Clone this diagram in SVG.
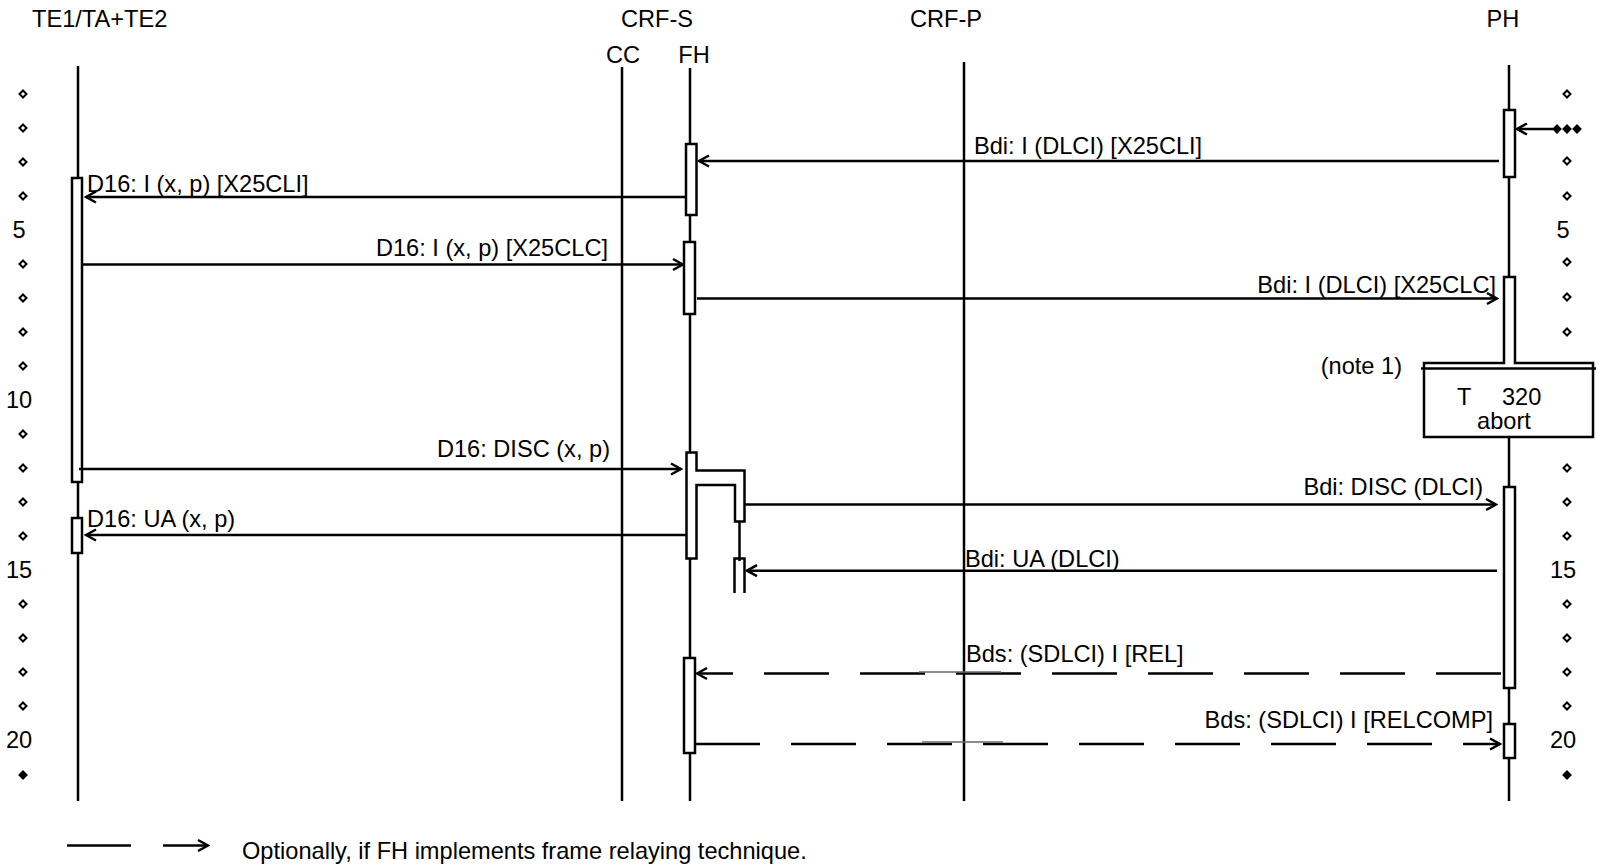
<svg xmlns="http://www.w3.org/2000/svg" xmlns:xlink="http://www.w3.org/1999/xlink" width="1598" height="867" viewBox="0 0 1598 867">
<style>
text{font-family:"Liberation Sans",Arial,sans-serif;font-size:23.6px;fill:#000}
.ll{stroke:#000;stroke-width:2.5;fill:none}
.box{stroke:#000;stroke-width:2.5;fill:#fff}
.msg{stroke:#000;stroke-width:2.5;fill:none;marker-end:url(#ah)}
.plain{stroke:#000;stroke-width:2.5;fill:none}
.dash{stroke-dasharray:65 31}
.grey{stroke:#666;stroke-width:1.5;fill:none}
.e{text-anchor:end}
.m{text-anchor:middle}
.dot{fill:#fff;stroke:#000;stroke-width:2}
.dotf{fill:#000;stroke:#000;stroke-width:2}
</style>
<defs>
<marker id="ah" markerUnits="userSpaceOnUse" viewBox="-12 -8 14 16" refX="0" refY="0" markerWidth="14" markerHeight="16" orient="auto">
<path d="M-10,-5.5 L0,0 L-10,5.5" fill="none" stroke="#000" stroke-width="2.5"/>
</marker>
<path id="d" d="M0,-3.5 L3.5,0 L0,3.5 L-3.5,0 Z"/>
</defs>
<rect width="1598" height="867" fill="#fff"/>

<g id="row-numbers">
<use xlink:href="#d" class="dot" x="23" y="94"/>
<use xlink:href="#d" class="dot" x="23" y="128"/>
<use xlink:href="#d" class="dot" x="23" y="162"/>
<use xlink:href="#d" class="dot" x="23" y="196"/>
<text class="m" x="19" y="238">5</text>
<use xlink:href="#d" class="dot" x="23" y="264"/>
<use xlink:href="#d" class="dot" x="23" y="298"/>
<use xlink:href="#d" class="dot" x="23" y="332"/>
<use xlink:href="#d" class="dot" x="23" y="366"/>
<text class="m" x="19" y="408">10</text>
<use xlink:href="#d" class="dot" x="23" y="434"/>
<use xlink:href="#d" class="dot" x="23" y="468"/>
<use xlink:href="#d" class="dot" x="23" y="502"/>
<use xlink:href="#d" class="dot" x="23" y="536"/>
<text class="m" x="19" y="578">15</text>
<use xlink:href="#d" class="dot" x="23" y="604"/>
<use xlink:href="#d" class="dot" x="23" y="638"/>
<use xlink:href="#d" class="dot" x="23" y="672"/>
<use xlink:href="#d" class="dot" x="23" y="706"/>
<text class="m" x="19" y="748">20</text>
<use xlink:href="#d" class="dotf" x="23" y="775"/>

<use xlink:href="#d" class="dot" x="1567" y="94"/>
<use xlink:href="#d" class="dotf" x="1557" y="129"/>
<use xlink:href="#d" class="dotf" x="1567" y="129"/>
<use xlink:href="#d" class="dotf" x="1577" y="129"/>
<use xlink:href="#d" class="dot" x="1567" y="161"/>
<use xlink:href="#d" class="dot" x="1567" y="196"/>
<text class="m" x="1563" y="238">5</text>
<use xlink:href="#d" class="dot" x="1567" y="262"/>
<use xlink:href="#d" class="dot" x="1567" y="297"/>
<use xlink:href="#d" class="dot" x="1567" y="332"/>
<use xlink:href="#d" class="dot" x="1567" y="468"/>
<use xlink:href="#d" class="dot" x="1567" y="502"/>
<use xlink:href="#d" class="dot" x="1567" y="536"/>
<text class="m" x="1563" y="578">15</text>
<use xlink:href="#d" class="dot" x="1567" y="604"/>
<use xlink:href="#d" class="dot" x="1567" y="638"/>
<use xlink:href="#d" class="dot" x="1567" y="672"/>
<use xlink:href="#d" class="dot" x="1567" y="706"/>
<text class="m" x="1563" y="748">20</text>
<use xlink:href="#d" class="dotf" x="1567" y="775"/>
</g>

<g id="node-te1">
<text x="32" y="27">TE1/TA+TE2</text>
<line class="ll" x1="78" y1="66" x2="78" y2="801"/>
<rect class="box" x="72" y="178" width="10" height="304"/>
<rect class="box" x="72" y="518" width="10" height="35"/>
</g>

<g id="node-crfs">
<text class="m" x="657" y="27">CRF-S</text>
</g>

<g id="node-cc">
<text class="m" x="623" y="63">CC</text>
<line class="ll" x1="622" y1="67" x2="622" y2="801"/>
</g>

<g id="node-fh">
<text class="m" x="694" y="63">FH</text>
<line class="ll" x1="690" y1="68" x2="690" y2="801"/>
<rect class="box" x="686" y="144" width="10.5" height="71"/>
<rect class="box" x="684" y="242" width="11" height="72"/>
<path class="box" d="M686.5,452.5 H696.5 V470.5 H744.5 V521.5 H735 V485 H696.5 V558.5 H686.5 Z"/>
<line class="plain" x1="739.5" y1="521.5" x2="739.5" y2="561"/>
<path class="plain" d="M734.5,593 V558.5 H744.5 V593"/>
<rect class="box" x="684" y="658" width="11" height="95"/>
</g>

<g id="node-crfp">
<text class="m" x="946" y="27">CRF-P</text>
<line class="ll" x1="964" y1="62" x2="964" y2="801"/>
</g>

<g id="node-ph">
<text class="m" x="1503" y="27">PH</text>
<line class="ll" x1="1509" y1="65" x2="1509" y2="801"/>
<rect class="box" x="1504" y="110" width="11" height="67"/>
<rect class="box" x="1424" y="363" width="169" height="74"/>
<rect x="1505.3" y="355" width="8.4" height="12" fill="#fff"/>
<path class="box" d="M1504,364 V277 H1515 V364"/>
<line class="plain" x1="1421" y1="368.5" x2="1596" y2="368.5"/>
<text x="1457" y="405">T</text>
<text x="1502" y="405">320</text>
<text class="m" x="1504" y="429">abort</text>
<rect class="box" x="1504" y="487" width="11" height="201"/>
<rect class="box" x="1504" y="724" width="11" height="34"/>
</g>

<g id="connectors">
<line class="msg" x1="1553" y1="129" x2="1517" y2="129"/>
<line class="msg" x1="1499" y1="161" x2="699" y2="161"/>
<line class="msg" x1="686" y1="197" x2="86" y2="197"/>
<line class="msg" x1="82" y1="264.5" x2="683" y2="264.5"/>
<line class="msg" x1="697" y1="298.5" x2="1497" y2="298.5"/>
<line class="msg" x1="79" y1="469" x2="681" y2="469"/>
<line class="msg" x1="745" y1="504.5" x2="1496" y2="504.5"/>
<line class="msg" x1="686" y1="535" x2="86" y2="535"/>
<line class="msg" x1="1497" y1="570.7" x2="747" y2="570.7"/>
<line class="msg dash" x1="1501" y1="673.5" x2="697" y2="673.5"/>
<line class="msg dash" x1="695" y1="744" x2="1500" y2="744"/>
<line class="grey" x1="919" y1="672" x2="1001" y2="672"/>
<line class="grey" x1="922" y1="742" x2="1003" y2="742"/>
</g>

<g id="labels">
<text x="974" y="154">Bdi: I (DLCI) [X25CLI]</text>
<text x="87" y="192">D16: I (x, p) [X25CLI]</text>
<text class="e" x="608" y="256">D16: I (x, p) [X25CLC]</text>
<text class="e" x="1496" y="293">Bdi: I (DLCI) [X25CLC]</text>
<text class="e" x="1402" y="374">(note 1)</text>
<text class="e" x="610" y="457">D16: DISC (x, p)</text>
<text class="e" x="1483" y="495">Bdi: DISC (DLCI)</text>
<text x="87" y="527">D16: UA (x, p)</text>
<text x="965" y="567">Bdi: UA (DLCI)</text>
<text x="966" y="662">Bds: (SDLCI) I [REL]</text>
<text class="e" x="1493" y="728">Bds: (SDLCI) I [RELCOMP]</text>
</g>

<g id="legend">
<line class="plain" x1="67" y1="845.5" x2="131" y2="845.5"/>
<line class="msg" x1="163" y1="845.5" x2="208" y2="845.5"/>
<text x="242" y="859">Optionally, if FH implements frame relaying technique.</text>
</g>
</svg>
